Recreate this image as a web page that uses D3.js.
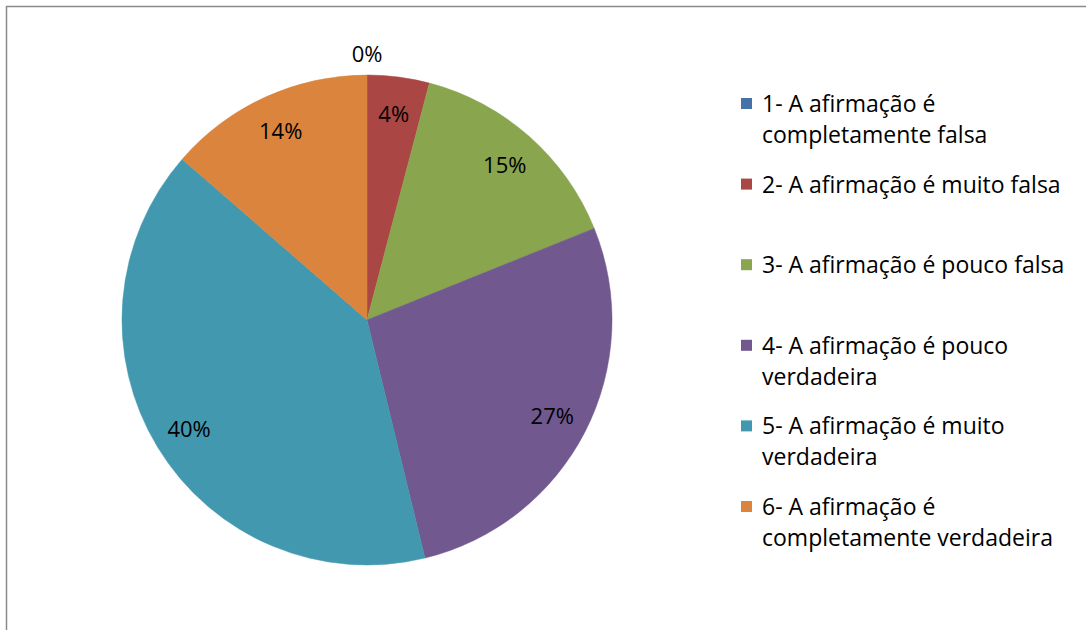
<!DOCTYPE html>
<html>
<head>
<meta charset="utf-8">
<script src="https://cdn.jsdelivr.net/npm/d3@7"></script>
<style>
  html, body { margin: 0; padding: 0; background: #fff; }
  svg { display: block; }
  text { font-family: "Open Sans", sans-serif; fill: #000; }
</style>
</head>
<body>
<svg id="chart" width="1086" height="630"></svg>
<script>
const categories = [
  ["1- A afirmação é", "completamente falsa"],
  ["2- A afirmação é muito falsa"],
  ["3- A afirmação é pouco falsa"],
  ["4- A afirmação é pouco", "verdadeira"],
  ["5- A afirmação é muito", "verdadeira"],
  ["6- A afirmação é", "completamente verdadeira"]
];
const values = [0, 4.1, 14.8, 27.3, 40.2, 13.6];
const colors = ["#4572A7", "#AA4643", "#89A54E", "#71588F", "#4198AF", "#DB843D"];

const svg = d3.select("#chart");
const W = 1086, H = 630;

// frame
svg.append("rect")
  .attr("x", 6.5).attr("y", 6.5)
  .attr("width", W + 20).attr("height", H + 20)
  .attr("fill", "#fff").attr("stroke", "#8a8a8a").attr("stroke-width", 1.5);

const cx = 367, cy = 320, R = 245;
const total = d3.sum(values);
const pie = d3.pie().sort(null).value(d => d)(values);
const arc = d3.arc().innerRadius(0).outerRadius(R);
const labelArc = d3.arc().innerRadius(R * 0.85).outerRadius(R * 0.85);
const outArc = d3.arc().innerRadius(R + 22).outerRadius(R + 22);

const g = svg.append("g").attr("transform", `translate(${cx},${cy})`);
g.selectAll("path.slice").data(pie).join("path")
  .attr("class", "slice")
  .attr("d", arc)
  .attr("fill", (d, i) => colors[i])
  .attr("stroke", (d, i) => colors[i])
  .attr("stroke-width", 0.5);

const fmt = v => Math.round(v / total * 100) + "%";
g.selectAll("text.lbl").data(pie).join("text")
  .attr("class", "lbl")
  .attr("transform", d => {
    const c = (d.value === 0 ? outArc : labelArc).centroid(d);
    return `translate(${c[0]},${c[1]})`;
  })
  .attr("text-anchor", "middle")
  .attr("dominant-baseline", "central")
  .attr("font-size", 22)
  .text(d => fmt(d.value));

// legend
const legY = d3.scaleLinear().domain([0, categories.length - 1]).range([103, 506]);
const leg = svg.append("g");
categories.forEach((lines, i) => {
  const y = legY(i);
  leg.append("rect")
    .attr("x", 741).attr("y", y - 5)
    .attr("width", 11).attr("height", 11)
    .attr("fill", colors[i]);
  lines.forEach((t, j) => {
    leg.append("text")
      .attr("x", 762).attr("y", y + j * 31)
      .attr("dominant-baseline", "central")
      .attr("font-size", 23)
      .text(t);
  });
});
</script>
</body>
</html>
